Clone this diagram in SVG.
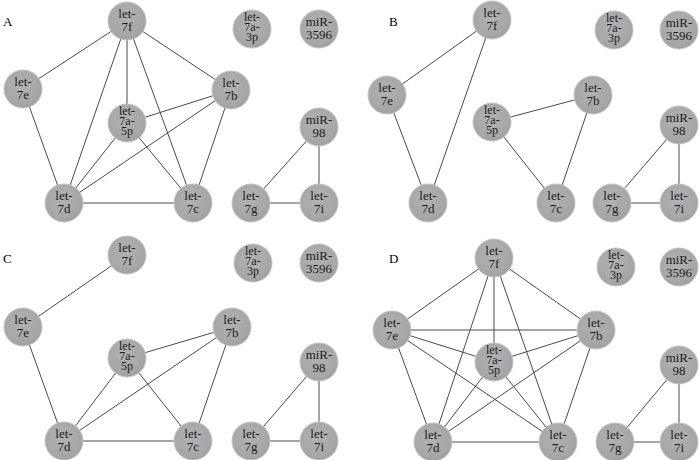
<svg xmlns="http://www.w3.org/2000/svg" width="700" height="460" viewBox="0 0 700 460">
<defs>
<radialGradient id="g" cx="0.45" cy="0.4" r="0.6">
<stop offset="0" stop-color="#b2b2b2"/>
<stop offset="0.85" stop-color="#a6a6a6"/>
<stop offset="1" stop-color="#9e9e9e"/>
</radialGradient>
</defs>
<style>
.n{fill:url(#g);stroke:#c4c4c4;stroke-width:1}
text{font-family:'Liberation Serif','Times New Roman',Times,serif;fill:#1a1a1a}
.t{font-size:13px;text-anchor:middle}
.t3{font-size:12px;text-anchor:middle}
.e line{stroke:#4a4a4a;stroke-width:1}
.p{font-size:13px;fill:#000}
</style>
<rect width="700" height="460" fill="#fff"/>

<!-- Panel A -->
<text class="p" x="3" y="26">A</text>
<g class="e" id="edgesA">
<line x1="127" y1="21" x2="23" y2="89"/>
<line x1="127" y1="21" x2="64" y2="203"/>
<line x1="127" y1="21" x2="127" y2="123"/>
<line x1="127" y1="21" x2="193" y2="203"/>
<line x1="127" y1="21" x2="231" y2="90"/>
<line x1="23" y1="89" x2="64" y2="203"/>
<line x1="231" y1="90" x2="127" y2="123"/>
<line x1="231" y1="90" x2="64" y2="203"/>
<line x1="231" y1="90" x2="193" y2="203"/>
<line x1="127" y1="123" x2="64" y2="203"/>
<line x1="127" y1="123" x2="193" y2="203"/>
<line x1="64" y1="203" x2="193" y2="203"/>
<line x1="319" y1="127" x2="251" y2="203"/>
<line x1="319" y1="127" x2="319" y2="203"/>
<line x1="251" y1="203" x2="319" y2="203"/>
</g>
<g id="A-7f"><circle class="n" cx="127" cy="21" r="19"/><text class="t"><tspan x="127" y="18">let-</tspan><tspan x="127" y="31">7f</tspan></text></g>
<g id="A-7a3p"><circle class="n" cx="252" cy="29" r="19"/><text class="t3"><tspan x="252" y="21">let-</tspan><tspan x="252" y="31">7a-</tspan><tspan x="252" y="41">3p</tspan></text></g>
<g id="A-miR3596"><circle class="n" cx="319" cy="29" r="19"/><text class="t"><tspan x="319" y="26">miR-</tspan><tspan x="319" y="39">3596</tspan></text></g>
<g id="A-7e"><circle class="n" cx="23" cy="89" r="19"/><text class="t"><tspan x="23" y="86">let-</tspan><tspan x="23" y="99">7e</tspan></text></g>
<g id="A-7b"><circle class="n" cx="231" cy="90" r="19"/><text class="t"><tspan x="231" y="87">let-</tspan><tspan x="231" y="100">7b</tspan></text></g>
<g id="A-7a5p"><circle class="n" cx="127" cy="123" r="19"/><text class="t3"><tspan x="127" y="115">let-</tspan><tspan x="127" y="125">7a-</tspan><tspan x="127" y="135">5p</tspan></text></g>
<g id="A-miR98"><circle class="n" cx="319" cy="127" r="19"/><text class="t"><tspan x="319" y="124">miR-</tspan><tspan x="319" y="137">98</tspan></text></g>
<g id="A-7d"><circle class="n" cx="64" cy="203" r="19"/><text class="t"><tspan x="64" y="200">let-</tspan><tspan x="64" y="213">7d</tspan></text></g>
<g id="A-7c"><circle class="n" cx="193" cy="203" r="19"/><text class="t"><tspan x="193" y="200">let-</tspan><tspan x="193" y="213">7c</tspan></text></g>
<g id="A-7g"><circle class="n" cx="251" cy="203" r="19"/><text class="t"><tspan x="251" y="200">let-</tspan><tspan x="251" y="213">7g</tspan></text></g>
<g id="A-7i"><circle class="n" cx="319" cy="203" r="19"/><text class="t"><tspan x="319" y="200">let-</tspan><tspan x="319" y="213">7i</tspan></text></g>

<!-- Panel B -->
<text class="p" x="389" y="26">B</text>
<g class="e" id="edgesB">
<line x1="492" y1="20" x2="387" y2="95"/>
<line x1="492" y1="20" x2="428" y2="203"/>
<line x1="387" y1="95" x2="428" y2="203"/>
<line x1="492" y1="122" x2="593" y2="95"/>
<line x1="492" y1="122" x2="556" y2="203"/>
<line x1="593" y1="95" x2="556" y2="203"/>
<line x1="679" y1="125" x2="612" y2="203"/>
<line x1="679" y1="125" x2="679" y2="203"/>
<line x1="612" y1="203" x2="679" y2="203"/>
</g>
<g id="B-7f"><circle class="n" cx="492" cy="20" r="19"/><text class="t"><tspan x="492" y="17">let-</tspan><tspan x="492" y="30">7f</tspan></text></g>
<g id="B-7a3p"><circle class="n" cx="614" cy="30" r="19"/><text class="t3"><tspan x="614" y="22">let-</tspan><tspan x="614" y="32">7a-</tspan><tspan x="614" y="42">3p</tspan></text></g>
<g id="B-miR3596"><circle class="n" cx="679" cy="30" r="19"/><text class="t"><tspan x="679" y="27">miR-</tspan><tspan x="679" y="40">3596</tspan></text></g>
<g id="B-7e"><circle class="n" cx="387" cy="95" r="19"/><text class="t"><tspan x="387" y="92">let-</tspan><tspan x="387" y="105">7e</tspan></text></g>
<g id="B-7b"><circle class="n" cx="593" cy="95" r="19"/><text class="t"><tspan x="593" y="92">let-</tspan><tspan x="593" y="105">7b</tspan></text></g>
<g id="B-7a5p"><circle class="n" cx="492" cy="122" r="19"/><text class="t3"><tspan x="492" y="114">let-</tspan><tspan x="492" y="124">7a-</tspan><tspan x="492" y="134">5p</tspan></text></g>
<g id="B-miR98"><circle class="n" cx="679" cy="125" r="19"/><text class="t"><tspan x="679" y="122">miR-</tspan><tspan x="679" y="135">98</tspan></text></g>
<g id="B-7d"><circle class="n" cx="428" cy="203" r="19"/><text class="t"><tspan x="428" y="200">let-</tspan><tspan x="428" y="213">7d</tspan></text></g>
<g id="B-7c"><circle class="n" cx="556" cy="203" r="19"/><text class="t"><tspan x="556" y="200">let-</tspan><tspan x="556" y="213">7c</tspan></text></g>
<g id="B-7g"><circle class="n" cx="612" cy="203" r="19"/><text class="t"><tspan x="612" y="200">let-</tspan><tspan x="612" y="213">7g</tspan></text></g>
<g id="B-7i"><circle class="n" cx="679" cy="203" r="19"/><text class="t"><tspan x="679" y="200">let-</tspan><tspan x="679" y="213">7i</tspan></text></g>

<!-- Panel C -->
<text class="p" x="3" y="263">C</text>
<g class="e" id="edgesC">
<line x1="127" y1="255" x2="23" y2="327"/>
<line x1="23" y1="327" x2="64" y2="441"/>
<line x1="127" y1="358" x2="232" y2="327"/>
<line x1="127" y1="358" x2="64" y2="441"/>
<line x1="127" y1="358" x2="193" y2="441"/>
<line x1="232" y1="327" x2="64" y2="441"/>
<line x1="232" y1="327" x2="193" y2="441"/>
<line x1="64" y1="441" x2="193" y2="441"/>
<line x1="319" y1="362" x2="251" y2="441"/>
<line x1="319" y1="362" x2="319" y2="441"/>
<line x1="251" y1="441" x2="319" y2="441"/>
</g>
<g id="C-7f"><circle class="n" cx="127" cy="255" r="19"/><text class="t"><tspan x="127" y="252">let-</tspan><tspan x="127" y="265">7f</tspan></text></g>
<g id="C-7a3p"><circle class="n" cx="253" cy="263" r="19"/><text class="t3"><tspan x="253" y="255">let-</tspan><tspan x="253" y="265">7a-</tspan><tspan x="253" y="275">3p</tspan></text></g>
<g id="C-miR3596"><circle class="n" cx="319" cy="263" r="19"/><text class="t"><tspan x="319" y="260">miR-</tspan><tspan x="319" y="273">3596</tspan></text></g>
<g id="C-7e"><circle class="n" cx="23" cy="327" r="19"/><text class="t"><tspan x="23" y="324">let-</tspan><tspan x="23" y="337">7e</tspan></text></g>
<g id="C-7b"><circle class="n" cx="232" cy="327" r="19"/><text class="t"><tspan x="232" y="324">let-</tspan><tspan x="232" y="337">7b</tspan></text></g>
<g id="C-7a5p"><circle class="n" cx="127" cy="358" r="19"/><text class="t3"><tspan x="127" y="350">let-</tspan><tspan x="127" y="360">7a-</tspan><tspan x="127" y="370">5p</tspan></text></g>
<g id="C-miR98"><circle class="n" cx="319" cy="362" r="19"/><text class="t"><tspan x="319" y="359">miR-</tspan><tspan x="319" y="372">98</tspan></text></g>
<g id="C-7d"><circle class="n" cx="64" cy="441" r="19"/><text class="t"><tspan x="64" y="438">let-</tspan><tspan x="64" y="451">7d</tspan></text></g>
<g id="C-7c"><circle class="n" cx="193" cy="441" r="19"/><text class="t"><tspan x="193" y="438">let-</tspan><tspan x="193" y="451">7c</tspan></text></g>
<g id="C-7g"><circle class="n" cx="251" cy="441" r="19"/><text class="t"><tspan x="251" y="438">let-</tspan><tspan x="251" y="451">7g</tspan></text></g>
<g id="C-7i"><circle class="n" cx="319" cy="441" r="19"/><text class="t"><tspan x="319" y="438">let-</tspan><tspan x="319" y="451">7i</tspan></text></g>

<!-- Panel D -->
<text class="p" x="389" y="263">D</text>
<g class="e" id="edgesD">
<line x1="494" y1="258" x2="392" y2="330"/>
<line x1="494" y1="258" x2="596" y2="330"/>
<line x1="494" y1="258" x2="494" y2="362"/>
<line x1="494" y1="258" x2="433" y2="442"/>
<line x1="494" y1="258" x2="558" y2="442"/>
<line x1="392" y1="330" x2="596" y2="330"/>
<line x1="392" y1="330" x2="494" y2="362"/>
<line x1="392" y1="330" x2="433" y2="442"/>
<line x1="392" y1="330" x2="558" y2="442"/>
<line x1="596" y1="330" x2="494" y2="362"/>
<line x1="596" y1="330" x2="433" y2="442"/>
<line x1="596" y1="330" x2="558" y2="442"/>
<line x1="494" y1="362" x2="433" y2="442"/>
<line x1="494" y1="362" x2="558" y2="442"/>
<line x1="433" y1="442" x2="558" y2="442"/>
<line x1="679" y1="365" x2="615" y2="442"/>
<line x1="679" y1="365" x2="679" y2="442"/>
<line x1="615" y1="442" x2="679" y2="442"/>
</g>
<g id="D-7f"><circle class="n" cx="494" cy="258" r="19"/><text class="t"><tspan x="494" y="255">let-</tspan><tspan x="494" y="268">7f</tspan></text></g>
<g id="D-7a3p"><circle class="n" cx="616" cy="267" r="19"/><text class="t3"><tspan x="616" y="259">let-</tspan><tspan x="616" y="269">7a-</tspan><tspan x="616" y="279">3p</tspan></text></g>
<g id="D-miR3596"><circle class="n" cx="679" cy="267" r="19"/><text class="t"><tspan x="679" y="264">miR-</tspan><tspan x="679" y="277">3596</tspan></text></g>
<g id="D-7e"><circle class="n" cx="392" cy="330" r="19"/><text class="t"><tspan x="392" y="327">let-</tspan><tspan x="392" y="340">7e</tspan></text></g>
<g id="D-7b"><circle class="n" cx="596" cy="330" r="19"/><text class="t"><tspan x="596" y="327">let-</tspan><tspan x="596" y="340">7b</tspan></text></g>
<g id="D-7a5p"><circle class="n" cx="494" cy="362" r="19"/><text class="t3"><tspan x="494" y="354">let-</tspan><tspan x="494" y="364">7a-</tspan><tspan x="494" y="374">5p</tspan></text></g>
<g id="D-miR98"><circle class="n" cx="679" cy="365" r="19"/><text class="t"><tspan x="679" y="362">miR-</tspan><tspan x="679" y="375">98</tspan></text></g>
<g id="D-7d"><circle class="n" cx="433" cy="442" r="19"/><text class="t"><tspan x="433" y="439">let-</tspan><tspan x="433" y="452">7d</tspan></text></g>
<g id="D-7c"><circle class="n" cx="558" cy="442" r="19"/><text class="t"><tspan x="558" y="439">let-</tspan><tspan x="558" y="452">7c</tspan></text></g>
<g id="D-7g"><circle class="n" cx="615" cy="442" r="19"/><text class="t"><tspan x="615" y="439">let-</tspan><tspan x="615" y="452">7g</tspan></text></g>
<g id="D-7i"><circle class="n" cx="679" cy="442" r="19"/><text class="t"><tspan x="679" y="439">let-</tspan><tspan x="679" y="452">7i</tspan></text></g>
</svg>
